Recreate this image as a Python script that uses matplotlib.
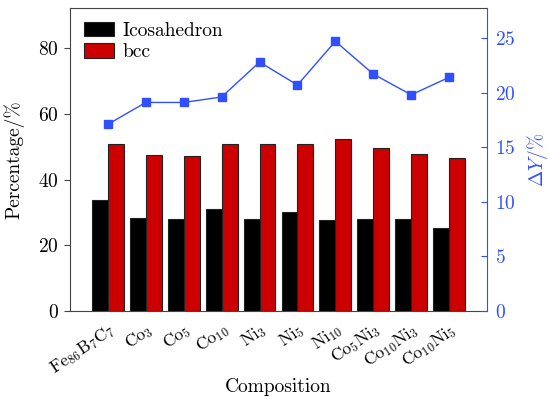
import matplotlib
matplotlib.use("Agg")
import matplotlib.pyplot as plt
import numpy as np

plt.rcParams['font.family'] = 'serif'
plt.rcParams['font.serif'] = ['cmr10']
plt.rcParams['mathtext.fontset'] = 'cm'
plt.rcParams['axes.formatter.use_mathtext'] = True

categories = [r'Fe$_{86}$B$_7$C$_7$', r'Co$_3$', r'Co$_5$', r'Co$_{10}$', r'Ni$_3$',
              r'Ni$_5$', r'Ni$_{10}$', r'Co$_5$Ni$_3$', r'Co$_{10}$Ni$_3$', r'Co$_{10}$Ni$_5$']
icosahedron = [33.8, 28.4, 28.0, 31.1, 28.0, 30.2, 27.7, 28.0, 28.0, 25.2]
bcc = [50.8, 47.5, 47.1, 50.7, 50.7, 50.8, 52.4, 49.7, 47.9, 46.6]
delta_y = [17.1, 19.1, 19.1, 19.6, 22.8, 20.7, 24.7, 21.7, 19.8, 21.4]

FS = 14
blue = '#3050ff'
fig = plt.figure(figsize=(5.5, 3.98), dpi=100)
ax = fig.add_axes([70/550, 1-311/398, 417/550, 303/398])
x = np.arange(1, len(categories)+1)
w = 0.42
ax.bar(x - w/2, icosahedron, w, color='black', edgecolor='#222222', linewidth=0.8, label='Icosahedron')
ax.bar(x + w/2, bcc, w, color='#cc0000', edgecolor='#222222', linewidth=0.8, label='bcc')
ax.set_xlim(0, 11)
ax.set_ylim(0, 92.2)
ax.set_yticks([0, 20, 40, 60, 80])
ax.set_xticks(x)
ax.set_xticklabels(categories, rotation=34, ha='right', rotation_mode='anchor', fontsize=12.5)
ax.tick_params(axis='x', length=0, pad=7)
ax.tick_params(axis='y', labelsize=FS, direction='out', length=4, color='#444444', pad=4)
ax.set_ylabel('Percentage/%', fontsize=FS)
ax.set_xlabel('Composition', fontsize=FS)
ax.xaxis.set_label_coords(0.5, -0.22)
ax.yaxis.set_label_coords(-0.11, 0.5)
for s in ['left', 'top', 'bottom']:
    ax.spines[s].set_color('#444444')
ax.spines['right'].set_visible(False)
leg = ax.legend(loc='upper left', fontsize=FS, frameon=False, handlelength=1.55, handleheight=0.8,
                handletextpad=0.45, borderaxespad=0.3, borderpad=0.4, labelspacing=0.15)

ax2 = ax.twinx()
ax2.plot(x, delta_y, color=blue, marker='s', markersize=6, linewidth=1)
ax2.set_ylim(0, 27.75)
ax2.set_yticks([0, 5, 10, 15, 20, 25])
ax2.tick_params(axis='y', colors=blue, labelsize=FS, direction='in', length=4, pad=6)
ax2.spines['right'].set_color(blue)
for s in ['left', 'top', 'bottom']:
    ax2.spines[s].set_visible(False)
ax2.set_ylabel(r'$\Delta Y$/%', color=blue, fontsize=FS)
ax2.yaxis.set_label_coords(1.092, 0.5)

fig.savefig('out.png', dpi=100)
